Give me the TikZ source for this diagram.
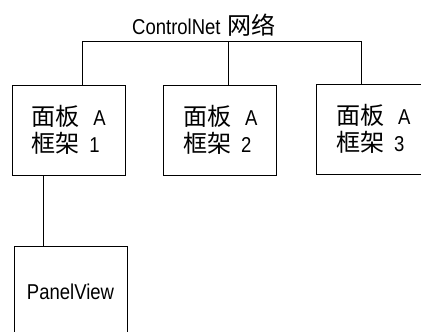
\documentclass[tikz,border=0pt]{standalone}
\usepackage{fontspec}
\setmainfont{Liberation Sans}[FakeStretch=0.86]
\newfontfamily\cjk[Scale=1.12]{Noto Sans CJK SC}
\usetikzlibrary{positioning}

% two-line rack label: panel A, rack n
\newcommand{\racktext}[1]{\makebox[62pt][l]{\cjk 面板}A\\\makebox[58pt][l]{\cjk 框架}#1}

\begin{document}
\begin{tikzpicture}[x=1pt, y=-1pt, line width=0.9pt,
    font=\fontsize{21.5}{27}\selectfont,
    rack/.style={draw, minimum width=113pt, minimum height=90pt,
                 align=left, inner sep=0pt}]

  \useasboundingbox (0,0) rectangle (421,332);

  \node (net) at (204,25) {ControlNet\hspace{7pt}{\cjk 网络}};

  \node[rack] (rack1) at (68.5,130) {\racktext{1}};
  \node[rack, right=38pt of rack1] (rack2) {\racktext{2}};
  \node[rack, right=39pt of rack2, yshift=1pt] (rack3) {\racktext{3}};

  \node[rack, below=71pt of rack1, xshift=2pt] (pv) {PanelView};

  % network bus
  \coordinate (busL) at (82,41);
  \coordinate (busM) at (228,41);
  \coordinate (busR) at (361,41);
  \coordinate (tap) at (43,0);

  \draw (rack1.north -| busL) -- (busL) -- (busR) -- (rack3.north -| busR);
  \draw (busM) -- (rack2.north -| busM);
  \draw (rack1.south -| tap) -- (pv.north -| tap);
\end{tikzpicture}
\end{document}
